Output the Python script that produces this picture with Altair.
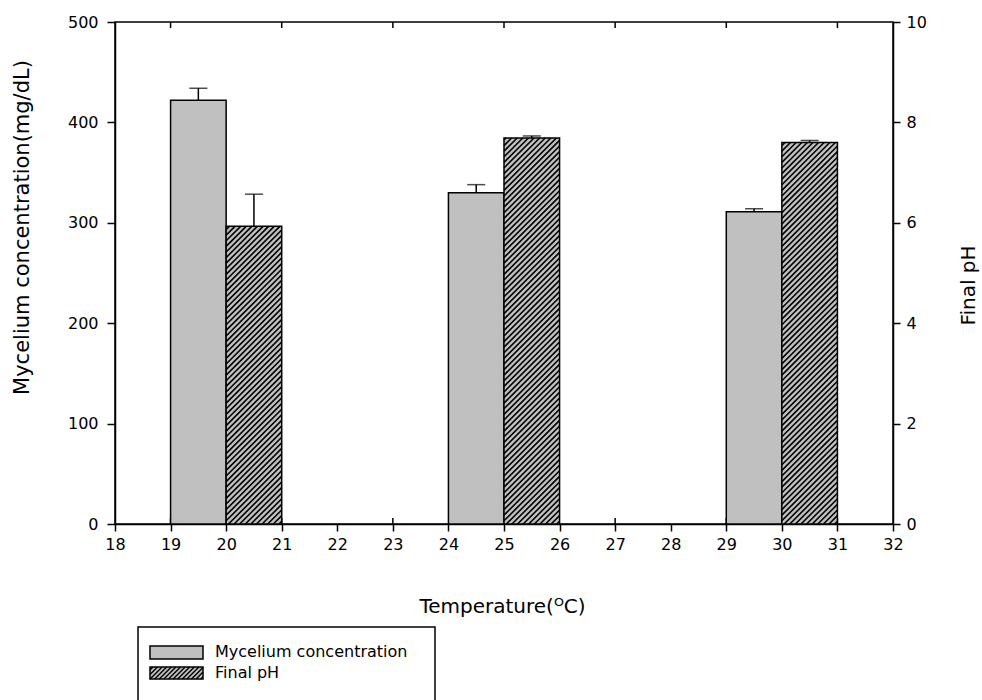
import altair as alt
import numpy as np
import pandas as pd

# ---- data -------------------------------------------------------------
temperature = [20, 25, 30]            # culture temperature (°C)
mycelium = [422, 330, 311]            # mycelium concentration (mg/dL)
mycelium_err = [12, 8, 3]
final_ph = [5.93, 7.69, 7.60]         # final pH of the broth
final_ph_err = [0.64, 0.04, 0.04]

x_ticks = list(range(18, 33))
minor_ticks = list(range(19, 32, 2))
left_ticks = [0, 100, 200, 300, 400, 500]
right_ticks = [0, 2, 4, 6, 8, 10]
series_labels = ["Mycelium concentration", "Final pH"]

# ---- layout / style ---------------------------------------------------
W, H = 778, 502
X_DOMAIN = [18, 32]
PH_DOMAIN = [0, 10]
MYC_DOMAIN = [0, 500]
PX_PER_X = W / (X_DOMAIN[1] - X_DOMAIN[0])
PX_PER_PH = H / (PH_DOMAIN[1] - PH_DOMAIN[0])
GRAY = "#c0c0c0"
FONT = "DejaVu Sans"
HATCH_STEP = 5.6


def hatch_lines(width_px, height_px, step=HATCH_STEP):
    """45-degree '///' segments filling a width x height box (y up)."""
    segs = []
    for c in np.arange(-width_px + step / 2, height_px, step):
        xs = max(0.0, -c)
        xe = min(width_px, height_px - c)
        if xe > xs:
            segs.append((xs, xs + c, xe, xe + c))
    return segs


myc_df = pd.DataFrame({
    "x0": [t - 1 for t in temperature],
    "x1": temperature,
    "xc": [t - 0.5 for t in temperature],
    "value": mycelium,
    "top": [v + e for v, e in zip(mycelium, mycelium_err)],
})

ph_df = pd.DataFrame({
    "x0": temperature,
    "x1": [t + 1 for t in temperature],
    "xc": [t + 0.5 for t in temperature],
    "value": final_ph,
    "top": [v + e for v, e in zip(final_ph, final_ph_err)],
})

# hatch segments inside each pH bar, in data units
rows = []
for x0, v in zip(ph_df["x0"], ph_df["value"]):
    for a, b, c, d in hatch_lines(PX_PER_X, v * PX_PER_PH):
        rows.append({"hx": x0 + a / PX_PER_X, "hy": b / PX_PER_PH,
                     "hx2": x0 + c / PX_PER_X, "hy2": d / PX_PER_PH})
hatch_df = pd.DataFrame(rows)

minor_df = pd.DataFrame({"t": minor_ticks})

x_scale = alt.Scale(domain=X_DOMAIN, nice=False, zero=False)
myc_scale = alt.Scale(domain=MYC_DOMAIN, nice=False)
ph_scale = alt.Scale(domain=PH_DOMAIN, nice=False)

x_axis = alt.Axis(values=x_ticks, format="d", tickSize=7, labelPadding=5,
                  labelFlush=False, labelOverlap=False,
                  title="Temperature(ᴼC)", titleX=W / 2 - 2, titleY=82,
                  titleBaseline="middle", titleAlign="center")
left_axis = alt.Axis(values=left_ticks, orient="left", tickSize=8, labelPadding=9,
                     labelFlush=False, labelOverlap=False,
                     title="Mycelium concentration(mg/dL)", titleAngle=270,
                     titleX=-93, titleY=205, titleAlign="center",
                     titleBaseline="middle", titleFontSize=21)
right_axis = alt.Axis(values=right_ticks, orient="right", tickSize=7, labelPadding=6,
                      labelFlush=False, labelOverlap=False,
                      title="Final pH", titleAngle=270, titleX=75, titleY=263,
                      titleAlign="center", titleBaseline="middle")

# ---- minor inward ticks at odd temperatures (top and bottom frame) ----
minor_top = alt.Chart(minor_df).mark_rule(color="black", strokeWidth=1.5).encode(
    x=alt.X("t:Q", scale=x_scale), y=alt.value(0), y2=alt.value(6))
minor_bottom = alt.Chart(minor_df).mark_rule(color="black", strokeWidth=1.5).encode(
    x=alt.X("t:Q", scale=x_scale), y=alt.value(H), y2=alt.value(H - 6))

# ---- mycelium bars (left axis) ----------------------------------------
myc_base = alt.Chart(myc_df)
myc_bars = myc_base.mark_rect(fill=GRAY, stroke="black", strokeWidth=1.5).encode(
    x=alt.X("x0:Q", scale=x_scale, axis=x_axis),
    x2="x1:Q",
    y=alt.Y("value:Q", scale=myc_scale, axis=left_axis),
    y2=alt.datum(0),
)
myc_err_line = myc_base.mark_rule(color="black", strokeWidth=1.5).encode(
    x=alt.X("xc:Q", scale=x_scale), y=alt.Y("value:Q", scale=myc_scale), y2="top:Q")
myc_cap = myc_base.mark_tick(color="black", thickness=1.5, size=18,
                             orient="horizontal").encode(
    x=alt.X("xc:Q", scale=x_scale), y=alt.Y("top:Q", scale=myc_scale))

left_group = alt.layer(minor_top, minor_bottom, myc_bars, myc_err_line, myc_cap)

# ---- final pH bars (right axis) ----------------------------------------
ph_base = alt.Chart(ph_df)
ph_fill = ph_base.mark_rect(fill=GRAY).encode(
    x=alt.X("x0:Q", scale=x_scale, axis=None), x2="x1:Q",
    y=alt.Y("value:Q", scale=ph_scale, axis=right_axis), y2=alt.datum(0))
ph_hatch = alt.Chart(hatch_df).mark_rule(color="black", strokeWidth=1.6).encode(
    x=alt.X("hx:Q", scale=x_scale, axis=None), x2="hx2:Q",
    y=alt.Y("hy:Q", scale=ph_scale), y2="hy2:Q")
ph_outline = ph_base.mark_rect(fillOpacity=0, stroke="black", strokeWidth=1.5).encode(
    x=alt.X("x0:Q", scale=x_scale, axis=None), x2="x1:Q",
    y=alt.Y("value:Q", scale=ph_scale), y2=alt.datum(0))
ph_err_line = ph_base.mark_rule(color="black", strokeWidth=1.5).encode(
    x=alt.X("xc:Q", scale=x_scale, axis=None),
    y=alt.Y("value:Q", scale=ph_scale), y2="top:Q")
ph_cap = ph_base.mark_tick(color="black", thickness=1.5, size=18,
                           orient="horizontal").encode(
    x=alt.X("xc:Q", scale=x_scale, axis=None), y=alt.Y("top:Q", scale=ph_scale))

right_group = alt.layer(ph_fill, ph_hatch, ph_outline, ph_err_line, ph_cap)

# ---- legend box (pixel positions, no scales) --------------------------
one = pd.DataFrame({"k": [0]})
legend_box = alt.Chart(one).mark_rect(
    fill="white", stroke="black", strokeWidth=1.5).encode(
    x=alt.value(23), x2=alt.value(320), y=alt.value(605), y2=alt.value(700))
swatch1 = alt.Chart(one).mark_rect(
    fill=GRAY, stroke="black", strokeWidth=1.5).encode(
    x=alt.value(35), x2=alt.value(88), y=alt.value(624), y2=alt.value(637))
swatch2 = alt.Chart(one).mark_rect(fill=GRAY).encode(
    x=alt.value(35), x2=alt.value(88), y=alt.value(645), y2=alt.value(657))
leg_rows = []
for a, b, c, d in hatch_lines(53, 12, 4.6):
    leg_rows.append({"lx": 35 + a, "ly": 657 - b, "lx2": 35 + c, "ly2": 657 - d})
leg_hatch = alt.Chart(pd.DataFrame(leg_rows)).mark_rule(
    color="black", strokeWidth=1.4).encode(
    x=alt.X("lx:Q", scale=None), y=alt.Y("ly:Q", scale=None),
    x2="lx2:Q", y2="ly2:Q")
swatch2_outline = alt.Chart(one).mark_rect(
    fillOpacity=0, stroke="black", strokeWidth=1.5).encode(
    x=alt.value(35), x2=alt.value(88), y=alt.value(645), y2=alt.value(657))
legend_text = alt.Chart(pd.DataFrame({
    "label": series_labels, "ty": [630, 651]})).mark_text(
    align="left", baseline="middle", font=FONT, fontSize=16, color="black").encode(
    text="label:N",
    x=alt.value(100),
    y=alt.Y("ty:Q", scale=None),
)
legend_group = alt.layer(legend_box, swatch1, swatch2, leg_hatch,
                         swatch2_outline, legend_text)

chart = alt.layer(left_group, right_group, legend_group).resolve_scale(
    x="independent", y="independent"
).properties(
    width=W, height=H,
    autosize=alt.AutoSizeParams(type="none"),
    padding={"left": 115, "top": 22, "right": 89, "bottom": 176},
    background="white",
).configure_view(
    stroke="black", strokeWidth=1.5
).configure_axis(
    grid=False, domainColor="black", domainWidth=1.5, tickColor="black",
    tickWidth=1.5, labelColor="black", labelFont=FONT, labelFontSize=16,
    titleFont=FONT, titleFontSize=20, titleFontWeight="normal", titleColor="black",
)

chart.save("out.html", embed_options={"renderer": "svg", "actions": False})
